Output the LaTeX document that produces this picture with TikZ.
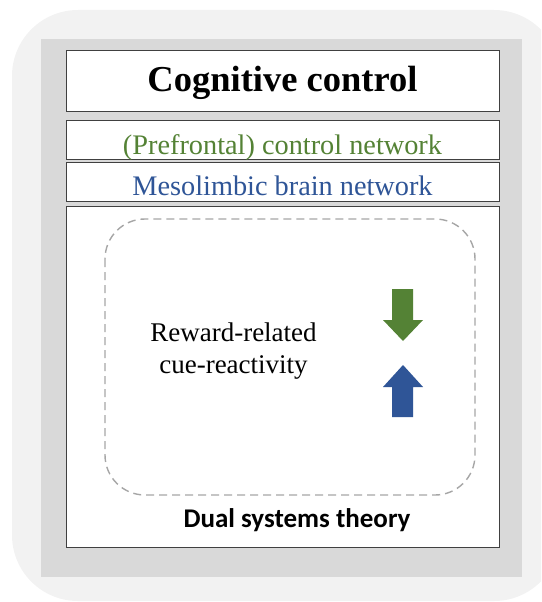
\documentclass[tikz,border=0pt]{standalone}
\usepackage{fontspec}
\setmainfont{Liberation Serif}
\newfontfamily\calibri{Carlito}
\definecolor{outerbg}{HTML}{F2F2F2}
\definecolor{innerbg}{HTML}{D9D9D9}
\definecolor{boxline}{HTML}{404040}
\definecolor{dashline}{HTML}{A6A6A6}
\definecolor{ctrlgreen}{HTML}{548235}
\definecolor{limbblue}{HTML}{2F5597}
\begin{document}
\begin{tikzpicture}[x=1pt,y=-1pt,
  panel/.style={draw=boxline,line width=1.3pt,fill=white,inner sep=0pt,anchor=north west},
  lbl/.style={inner sep=0pt,anchor=base}]
\useasboundingbox (0,0) rectangle (541,602);
\begin{scope}
\clip (0,0) rectangle (541,602);
\fill[outerbg,rounded corners=66pt] (12,10) rectangle (560,601);
\end{scope}
\fill[innerbg] (41,39) rectangle (522,577);
\node[panel,minimum width=433pt,minimum height=61pt] (title) at (66,50) {};
\node[panel,minimum width=433pt,minimum height=39pt] (pfc) at (66,120) {};
\node[panel,minimum width=433pt,minimum height=39pt] (meso) at (66,162) {};
\node[panel,minimum width=433pt,minimum height=341pt] (main) at (66,206) {};
\node[lbl,font=\fontsize{36.5}{40}\selectfont\bfseries] (titletext) at (282.5,92) {Cognitive control};
\node[lbl,font=\fontsize{28.3}{32}\selectfont,text=ctrlgreen] (pfctext) at (282.5,154) {(Prefrontal) control network};
\node[lbl,font=\fontsize{28.3}{32}\selectfont,text=limbblue] (mesotext) at (282.5,195) {Mesolimbic brain network};
\draw[dashline,line width=1.4pt,dash pattern=on 8pt off 5pt,rounded corners=40pt] (105,219) rectangle (475,495);
\node[lbl,font=\fontsize{27}{30}\selectfont] (rew1) at (233.5,341) {Reward-related};
\node[lbl,font=\fontsize{27}{30}\selectfont] (rew2) at (233.5,373) {cue-reactivity};
\node[lbl,font=\calibri\fontsize{27}{31}\selectfont\bfseries] (dual) at (297,527) {Dual systems theory};
\fill[ctrlgreen] (392,289) -- (413,289) -- (413,320) -- (423,320) -- (403,341) -- (383,320) -- (392,320) -- cycle;
\fill[limbblue] (392,417) -- (413,417) -- (413,387) -- (423,387) -- (403,365) -- (383,387) -- (392,387) -- cycle;
\end{tikzpicture}
\end{document}
